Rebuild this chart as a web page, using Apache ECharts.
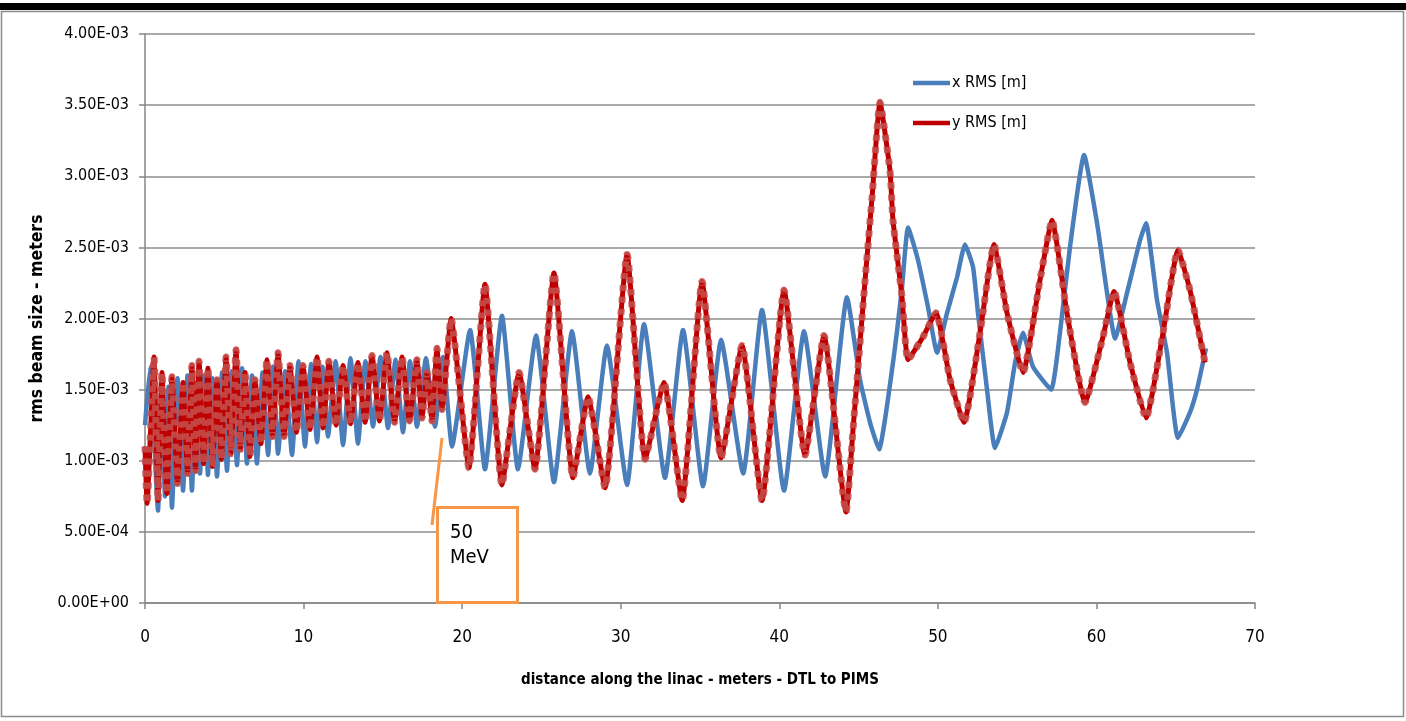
<!DOCTYPE html>
<html><head><meta charset="utf-8">
<script src="https://cdn.jsdelivr.net/npm/echarts@6/dist/echarts.min.js"></script>
<style>html,body{margin:0;padding:0;background:#fff}#c{width:1406px;height:721px}</style>
</head><body><div id="c"></div>
<script>
// distance along the linac (m)
const xRmsDist = [0.00,0.32,0.82,1.05,1.26,1.48,1.70,2.05,2.40,2.68,2.96,3.22,3.47,3.72,3.97,4.25,4.54,4.86,5.17,5.49,5.80,6.12,6.43,6.75,7.06,7.41,7.76,8.07,8.39,8.83,9.27,9.68,10.09,10.47,10.85,11.20,11.54,12.02,12.49,12.96,13.43,13.90,14.38,14.85,15.32,15.80,16.27,16.71,17.15,17.72,18.29,18.79,19.36,20.50,21.44,22.51,23.52,24.66,25.79,26.93,28.06,29.13,30.40,31.47,32.79,33.93,35.19,36.33,37.72,38.91,40.30,41.56,42.89,44.27,45.09,45.72,46.29,47.17,47.74,48.12,48.75,49.38,49.95,50.58,51.21,51.71,52.22,52.53,53.10,53.60,54.36,54.87,55.37,56.00,57.14,57.70,58.33,59.22,60.04,60.67,61.17,61.93,62.75,63.13,63.82,64.45,65.14,65.90,66.34,66.91];
// x RMS beam size, millimetres (1e-3 m)
const xRmsMm = [1.25,1.66,0.65,1.55,0.75,1.52,0.67,1.58,0.79,1.60,0.79,1.55,0.91,1.60,0.90,1.58,0.89,1.62,0.93,1.63,0.97,1.65,0.98,1.60,0.98,1.62,1.04,1.66,1.05,1.63,1.04,1.70,1.10,1.68,1.13,1.66,1.17,1.70,1.11,1.72,1.12,1.70,1.24,1.73,1.23,1.71,1.20,1.70,1.24,1.72,1.24,1.73,1.10,1.92,0.94,2.02,0.94,1.88,0.85,1.91,0.91,1.81,0.83,1.96,0.88,1.92,0.82,1.85,0.91,2.06,0.79,1.91,0.89,2.15,1.57,1.27,1.08,1.69,2.22,2.64,2.41,2.08,1.76,2.04,2.29,2.52,2.36,2.04,1.50,1.09,1.34,1.69,1.90,1.66,1.50,1.90,2.50,3.15,2.67,2.18,1.86,2.18,2.55,2.67,2.13,1.76,1.16,1.34,1.50,1.79];

const yRmsDist = [0.00,0.13,0.57,0.82,1.07,1.38,1.70,2.05,2.40,2.68,2.96,3.18,3.41,3.69,3.97,4.25,4.54,4.82,5.11,5.42,5.74,6.02,6.31,6.62,6.94,7.31,7.69,8.04,8.39,8.77,9.14,9.55,9.96,10.41,10.85,11.23,11.60,12.05,12.49,12.96,13.43,13.88,14.32,14.79,15.26,15.74,16.21,16.68,17.15,17.47,17.78,18.10,18.41,18.73,19.30,20.43,21.44,22.51,23.59,24.59,25.79,26.99,27.94,29.01,30.40,31.54,32.73,33.87,35.13,36.33,37.65,38.91,40.30,41.62,42.82,44.21,44.65,45.41,45.85,46.35,46.98,47.17,47.74,48.12,49.06,49.88,50.77,51.65,52.66,53.54,54.36,55.37,56.44,57.20,58.14,59.28,60.41,61.11,62.12,63.13,64.20,65.14,65.90,66.85];
// y RMS beam size, millimetres (1e-3 m)
const yRmsMm = [1.10,0.70,1.73,0.72,1.62,0.77,1.59,0.84,1.55,0.91,1.67,0.93,1.70,0.98,1.65,0.96,1.57,1.01,1.73,1.05,1.78,1.08,1.62,1.03,1.57,1.12,1.71,1.17,1.76,1.17,1.67,1.20,1.67,1.22,1.73,1.23,1.70,1.25,1.67,1.26,1.69,1.27,1.74,1.28,1.76,1.27,1.73,1.28,1.71,1.30,1.62,1.28,1.79,1.36,2.00,0.95,2.24,0.83,1.62,0.94,2.32,0.88,1.45,0.81,2.45,1.01,1.55,0.72,2.26,1.02,1.81,0.72,2.20,1.04,1.88,0.64,1.22,2.27,2.85,3.52,3.04,2.69,2.15,1.71,1.87,2.04,1.57,1.27,1.90,2.52,2.04,1.62,2.27,2.69,2.04,1.41,1.87,2.19,1.69,1.30,1.90,2.48,2.20,1.69];

const seriesNames = ['x RMS [m]', 'y RMS [m]'];
const xAxisTicks = {min: 0, max: 70, interval: 10};
const yAxisTicksMm = {min: 0, max: 4, interval: 0.5};

const pair = (xs, ys) => xs.map((x, i) => [x, ys[i]]);
const NARROW = '"Liberation Sans Narrow","DejaVu Sans Condensed","Liberation Sans",sans-serif';

function sci(vmm) {
  const s = (vmm / 1000).toExponential(2);
  const parts = s.split('e');
  const sign = parts[1][0] === '-' ? '-' : '+';
  let d = parts[1].replace(/[+-]/, '');
  if (d.length < 2) d = '0' + d;
  return parts[0] + 'E' + sign + d;
}

const barIcon = 'path://M0 0H40V5H0Z';
const SMOOTH = 0.15;

const chart = echarts.init(document.getElementById('c'), null, {renderer: 'canvas'});
chart.setOption({
  backgroundColor: '#fff',
  animation: false,
  grid: {left: 145, right: 151, top: 34, bottom: 118, containLabel: false},
  legend: {
    orient: 'vertical', left: 908, top: 67, itemGap: 18, itemWidth: 37, itemHeight: 5,
    data: [
      {name: seriesNames[0], icon: barIcon, itemStyle: {color: '#4A7EBB'}},
      {name: seriesNames[1], icon: barIcon, itemStyle: {color: '#C00000'}}
    ],
    textStyle: {fontFamily: NARROW, fontSize: 16, color: '#000', padding: [0,0,0,-3], lineHeight: 22}
  },
  xAxis: {
    type: 'value', min: xAxisTicks.min, max: xAxisTicks.max, interval: xAxisTicks.interval,
    name: 'distance along the linac - meters - DTL to PIMS',
    nameLocation: 'middle', nameGap: 70,
    nameTextStyle: {fontFamily: NARROW, fontWeight: 'bold', fontSize: 15, color: '#000'},
    axisLine: {lineStyle: {color: '#868686', width: 1.5}},
    axisTick: {show: true, length: 6, lineStyle: {color: '#868686', width: 1.5}},
    axisLabel: {fontFamily: NARROW, fontSize: 17, color: '#000', margin: 26},
    splitLine: {show: false}
  },
  yAxis: {
    type: 'value', min: yAxisTicksMm.min, max: yAxisTicksMm.max, interval: yAxisTicksMm.interval,
    name: 'rms beam size - meters',
    nameLocation: 'middle', nameGap: 98, nameRotate: 90,
    nameTextStyle: {fontFamily: NARROW, fontWeight: 'bold', fontSize: 17.5, color: '#000'},
    axisLine: {show: true, lineStyle: {color: '#868686', width: 1.5}},
    axisTick: {show: true, length: 6, lineStyle: {color: '#868686', width: 1.5}},
    axisLabel: {fontFamily: NARROW, fontSize: 16, color: '#000', margin: 16, formatter: sci},
    splitLine: {show: true, lineStyle: {color: '#8c8c8c', width: 1.5}}
  },
  series: [
    {
      name: seriesNames[0], type: 'line', data: pair(xRmsDist, xRmsMm),
      symbol: 'none', smooth: SMOOTH, z: 2,
      lineStyle: {color: '#4A7EBB', width: 4.5}, itemStyle: {color: '#4A7EBB'}
    },
    {
      name: seriesNames[1], type: 'line', data: pair(yRmsDist, yRmsMm),
      symbol: 'none', smooth: SMOOTH, z: 3,
      lineStyle: {color: '#C00000', width: 5}, itemStyle: {color: '#C00000'}
    },
    {
      name: 'y markers', type: 'line', data: pair(yRmsDist, yRmsMm),
      symbol: 'none', smooth: SMOOTH, z: 4, silent: true,
      lineStyle: {color: '#C4504D', width: 7, type: [6, 6], opacity: 0.85}
    }
  ],
  graphic: [
    {type: 'rect', shape: {x: 0, y: 3, width: 1406, height: 7}, style: {fill: '#000'}, z: 100},
    {type: 'rect', shape: {x: 1.5, y: 11.5, width: 1402, height: 705}, style: {fill: null, stroke: '#8a8a8a', lineWidth: 1.5}, z: 100},
    {type: 'line', shape: {x1: 442, y1: 438, x2: 432, y2: 525}, style: {stroke: '#F79646', lineWidth: 3}, z: 100},
    {type: 'rect', shape: {x: 437.5, y: 507.5, width: 80, height: 95}, style: {fill: '#fff', stroke: '#F79646', lineWidth: 3}, z: 100},
    {type: 'text', left: 450, top: 520, z: 101, style: {text: '50\nMeV', fontFamily: NARROW, fontSize: 20, lineHeight: 25, fill: '#000'}}
  ]
});
</script></body></html>
